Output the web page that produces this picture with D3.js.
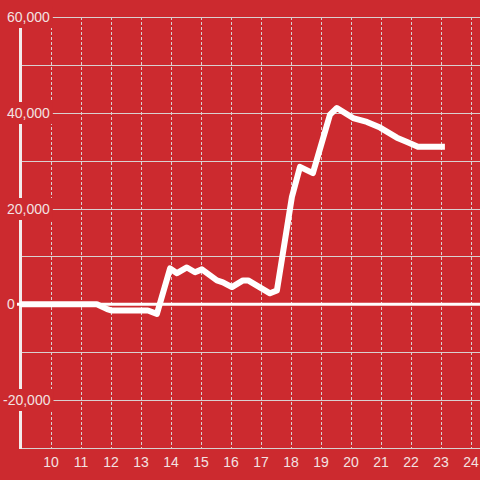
<!DOCTYPE html>
<html>
<head>
<meta charset="utf-8">
<style>
  body { margin: 0; background: #cc2a2f; }
  svg { display: block; font-family: "Liberation Sans", Arial, sans-serif; }
</style>
</head>
<body>
<svg width="480" height="480"></svg>
<script src="https://d3js.org/d3.v7.min.js" charset="utf-8"></script>
<script>
// hour of day
var hours = [8.97, 11.53, 11.87, 12.03, 13.23, 13.53, 13.97, 14.2, 14.53, 14.8, 15.03,
             15.53, 15.73, 16.03, 16.4, 16.57, 17.3, 17.53, 18.03, 18.3, 18.73,
             19.3, 19.53, 20.07, 20.53, 20.97, 21.53, 21.87, 22.23, 23.13];
var values = [0, 0, -1000, -1300, -1300, -2000, 7500, 6500, 7700, 6700, 7300,
              5000, 4600, 3600, 5000, 5000, 2300, 2900, 22400, 28700, 27400,
              39600, 41000, 38900, 38100, 36900, 34800, 33900, 32900, 32900];
var xTicks = [10, 11, 12, 13, 14, 15, 16, 17, 18, 19, 20, 21, 22, 23, 24];
var yLabelTicks = [-20000, 0, 20000, 40000, 60000];
var yGridTicks = [-20000, -10000, 0, 10000, 20000, 30000, 40000, 50000, 60000];

var bg = "#cc2a2f",
    textColor = "#f3e2e2",
    gridColor = "#d9d0d0";

var svg = d3.select("svg");

var x = d3.scaleLinear().domain([9, 24.3]).range([21, 480]);
var y = d3.scaleLinear().domain([-30000, 60000]).range([448, 17]);

var data = hours.map(function (h, i) { return { h: h, v: values[i] }; });
var fmt = function (d) { return (d < 0 ? "-" : "") + d3.format(",")(Math.abs(d)); };

// vertical dotted grid
svg.append("g").selectAll("line")
    .data(xTicks)
    .enter().append("line")
    .attr("x1", function (d) { return x(d) + 0.5; })
    .attr("x2", function (d) { return x(d) + 0.5; })
    .attr("y1", y(60000))
    .attr("y2", y(-30000))
    .attr("stroke", gridColor)
    .attr("stroke-width", 1)
    .attr("stroke-dasharray", "3,2");

// horizontal grid
svg.append("g").selectAll("line")
    .data(yGridTicks)
    .enter().append("line")
    .attr("x1", 20)
    .attr("x2", 480)
    .attr("y1", function (d) { return Math.round(y(d)) + 0.5; })
    .attr("y2", function (d) { return Math.round(y(d)) + 0.5; })
    .attr("stroke", gridColor)
    .attr("stroke-width", 1);

// bottom axis line
svg.append("line")
    .attr("x1", 20).attr("x2", 480)
    .attr("y1", y(-30000) + 0.5).attr("y2", y(-30000) + 0.5)
    .attr("stroke", gridColor);

// y axis line
svg.append("line")
    .attr("x1", 20.5).attr("x2", 20.5)
    .attr("y1", y(60000)).attr("y2", y(-30000) + 1)
    .attr("stroke", "#f3ecec")
    .attr("stroke-width", 3);

// y labels with background mask
var yl = svg.append("g").selectAll("g")
    .data(yLabelTicks)
    .enter().append("g")
    .attr("transform", function (d) { return "translate(0," + Math.round(y(d)) + ")"; });

var rects = yl.append("rect").attr("fill", bg);

var texts = yl.append("text")
    .attr("x", function (d) { return d < 0 ? 3 : 7; })
    .attr("dy", "0.36em")
    .attr("fill", textColor)
    .attr("font-size", 14)
    .text(fmt);

rects.each(function (d, i) {
    var t = texts.nodes()[i],
        tx = d < 0 ? 3 : 7,
        w = t.getComputedTextLength();
    d3.select(this)
        .attr("x", tx - 2)
        .attr("y", -11)
        .attr("width", w + 5)
        .attr("height", 22);
});

// zero line
svg.append("line")
    .attr("x1", 17).attr("x2", 480)
    .attr("y1", y(0)).attr("y2", y(0))
    .attr("stroke", "#fff")
    .attr("stroke-width", 3);

// x labels
svg.append("g").selectAll("text")
    .data(xTicks)
    .enter().append("text")
    .attr("x", function (d) { return x(d); })
    .attr("y", 467)
    .attr("text-anchor", "middle")
    .attr("fill", textColor)
    .attr("font-size", 14)
    .text(function (d) { return d; });

// data line
var line = d3.line()
    .x(function (d) { return x(d.h); })
    .y(function (d) { return y(d.v); });

svg.append("path")
    .datum(data)
    .attr("fill", "none")
    .attr("stroke", "#fff")
    .attr("stroke-width", 6)
    .attr("stroke-linejoin", "round")
    .attr("d", line);
</script>
</body>
</html>
